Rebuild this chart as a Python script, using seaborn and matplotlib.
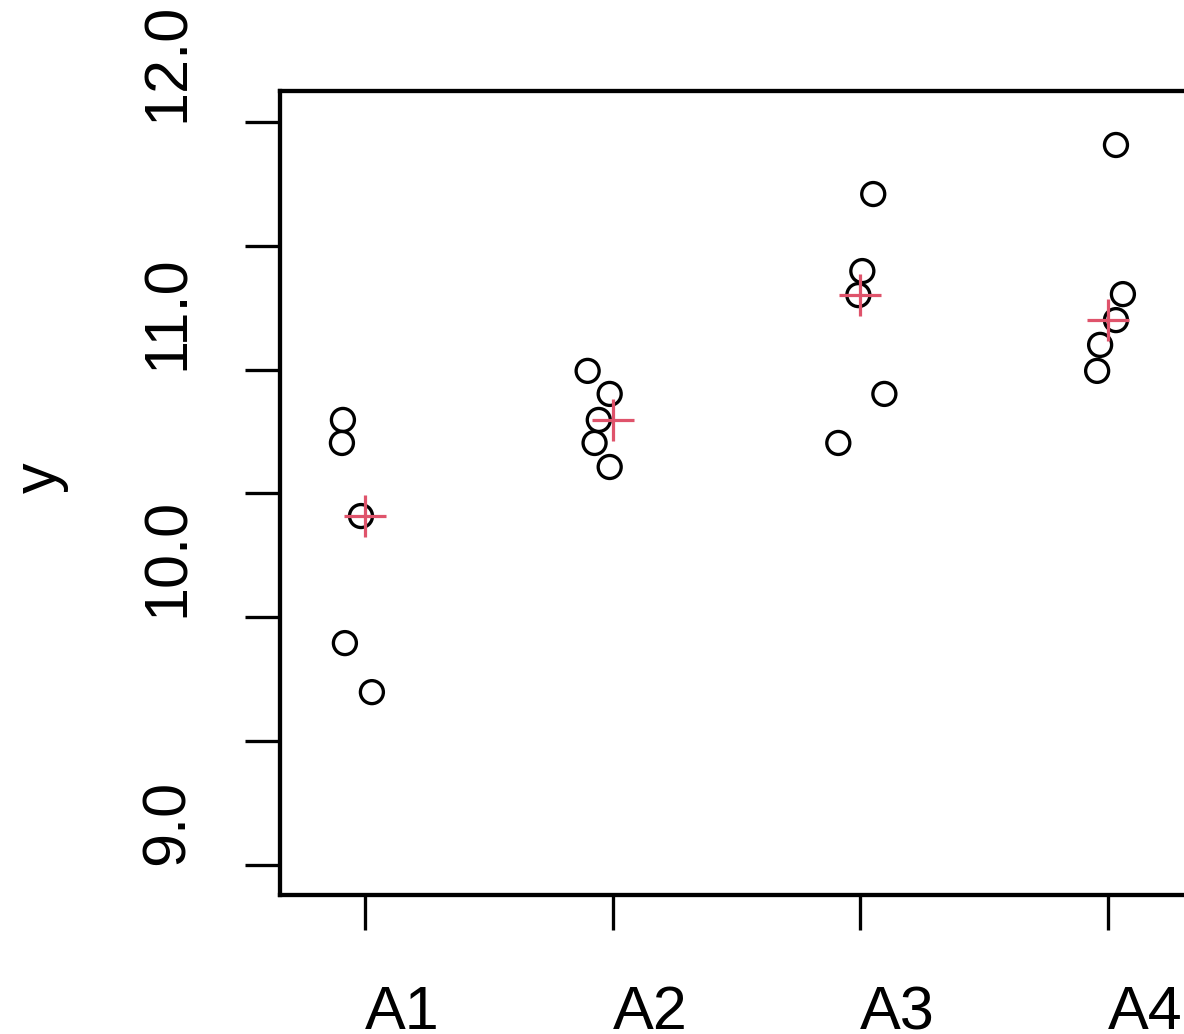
import numpy as np
import pandas as pd
import seaborn as sns
import matplotlib.pyplot as plt
from matplotlib.ticker import FixedLocator

# values
groups = ['A1', 'A2', 'A3', 'A4']
a1_values = [10.797, 10.704, 10.409, 9.896, 9.698]
a2_values = [10.995, 10.902, 10.797, 10.704, 10.607]
a3_values = [11.709, 11.398, 11.301, 10.902, 10.704]
a4_values = [11.907, 11.305, 11.200, 11.100, 10.995]
# horizontal jitter of each point (in group units)
a1_jitter = [-0.089, -0.093, -0.016, -0.081, 0.028]
a2_jitter = [-0.101, -0.012, -0.056, -0.073, -0.012]
a3_jitter = [0.052, 0.008, -0.008, 0.097, -0.089]
a4_jitter = [0.032, 0.060, 0.032, -0.032, -0.044]

ytick_values = [9.0, 9.5, 10.0, 10.5, 11.0, 11.5, 12.0]
ytick_labels = ['9.0', '', '10.0', '', '11.0', '', '12.0']

sns.set_theme(style='ticks')
plt.rcParams['font.family'] = ['Liberation Sans', 'DejaVu Sans']

rows = []
for g, vals, jit in zip(groups, [a1_values, a2_values, a3_values, a4_values],
                        [a1_jitter, a2_jitter, a3_jitter, a4_jitter]):
    for v, j in zip(vals, jit):
        rows.append({'group': g, 'y': v, 'jitter': j})
df = pd.DataFrame(rows)
df['pos'] = df['group'].map({g: i for i, g in enumerate(groups)}) + df['jitter']

# red cross marks the median of each group
med = df.groupby('group', sort=False)['y'].median().reset_index()
med['pos'] = med['group'].map({g: i for i, g in enumerate(groups)})

W, H = 1184, 1034
fig = plt.figure(figsize=(W / 100, H / 100), dpi=100)
ax = fig.add_axes([280 / W, (H - 895) / H, 913 / W, 804 / H])

px = 0.72  # points per pixel at 100 dpi
sns.scatterplot(data=df, x='pos', y='y', ax=ax, marker='o', s=(23 * px) ** 2,
                facecolor='none', edgecolor='black', linewidth=3.3 * px, zorder=3)
sns.scatterplot(data=med, x='pos', y='y', ax=ax, marker='+', s=(42 * px) ** 2,
                color='#DF536B', linewidth=3.2 * px, zorder=4)

ax.set_xlim(-0.343, 3.343)
ax.set_ylim(8.879, 12.125)

ax.set_xticks(range(len(groups)))
ax.set_xticklabels(groups)
ax.yaxis.set_major_locator(FixedLocator(ytick_values))
ax.set_yticklabels(ytick_labels)

for s in ax.spines.values():
    s.set_linewidth(4.3 * px)
    s.set_color('black')

ax.tick_params(axis='both', length=35 * px, width=3.3 * px, color='black',
               labelsize=44, labelcolor='black')
ax.tick_params(axis='y', pad=48 * px)
ax.tick_params(axis='x', pad=55 * px)
plt.setp(ax.get_yticklabels(), rotation=90, va='bottom', ha='right')
plt.setp(ax.get_xticklabels(), ha='left', va='top')

ax.set_xlabel('')
ax.set_ylabel('')
fig.text(40 / W, 1 - 478 / H, 'y', rotation=90, ha='center', va='center',
         fontsize=44, color='black')

fig.savefig('out.png', dpi=100)
